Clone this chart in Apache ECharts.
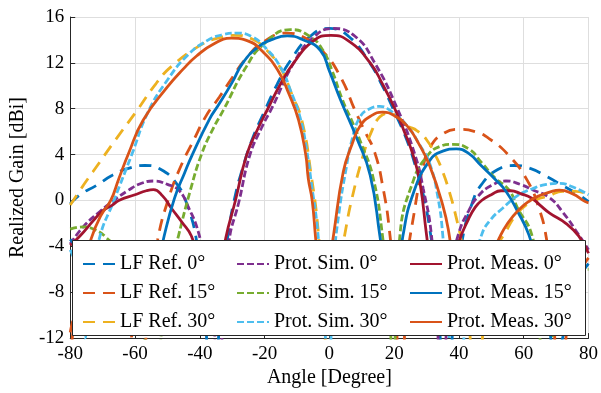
<!DOCTYPE html>
<html>
<head>
<meta charset="utf-8" />
<title>Realized Gain</title>
<script src="https://cdn.jsdelivr.net/npm/echarts@6/dist/echarts.min.js"></script>
<style type="text/css">
	html, body {margin: 0; padding: 0; background: #fff;}
	#main {width: 601px; height: 393px;}
</style>
</head>
<body>
<div id="main"></div>
<script type="text/javascript">
// axis ticks
var xTicks = [-80, -60, -40, -20, 0, 20, 40, 60, 80];
var yTicks = [-12, -8, -4, 0, 4, 8, 12, 16];

// series names (legend columns)
var lfNames = ['LF Ref. 0°', 'LF Ref. 15°', 'LF Ref. 30°'];
var simNames = ['Prot. Sim. 0°', 'Prot. Sim. 15°', 'Prot. Sim. 30°'];
var measNames = ['Prot. Meas. 0°', 'Prot. Meas. 15°', 'Prot. Meas. 30°'];

// [angle, gain dBi]
var lfRef0 = [[-80,-0.3],[-77,0.5],[-72,1.3],[-67,2.2],[-62,2.8],[-57,3.05],[-52,2.7],[-47,1.4],[-44,-0.3],[-41,-3.5],[-38.5,-9],[-36,-25],
	[-33.5,-8],[-31,-2.5],[-29,0.5],[-27,2.6],[-24,5.2],[-20,7.8],[-16,10.2],[-12,12.2],[-6,14.3],[0,15.0],[6,14.3],[12,12.2],[16,10.2],
	[20,7.8],[24,5.2],[27,2.6],[29,0.5],[31,-2.5],[33.5,-8],[36,-25],[38.5,-9],[41,-3.5],[44,-0.3],[47,1.4],[52,2.7],[57,3.05],[62,2.8],
	[67,2.1],[72,1.3],[77,0.5],[80,-0.1]];
var lfRef15 = [[-80,-11.5],[-76,-8],[-70,-6],[-65,-7.5],[-61,-12],[-58.5,-25],[-56,-9],[-53,-3.4],[-49.5,0.3],[-46,2.9],[-42,5.2],
	[-38,7.4],[-34,9.0],[-30,10.7],[-26,12.3],[-20,13.9],[-13,14.6],[-7,14.1],[-2,13.0],[3.4,10.8],[8,7.8],[11,6.0],[14,4.2],[16.5,1.2],
	[18.5,-2.5],[20.5,-9],[22,-25],[24,-6],[26.5,-0.5],[29,3.0],[31,4.6],[35,5.8],[40,6.2],[45,6.0],[49.3,5.4],[55.5,3.9],[61,1.8],
	[64.5,-0.5],[67,-3.3],[69,-8],[71,-25],[74,-9],[80,-5]];
var lfRef30 = [[-80,-0.4],[-76,1.3],[-73,2.5],[-66,5.3],[-59,8.0],[-53.5,10.2],[-48.7,11.7],[-40,13.5],[-34,14.2],[-29,14.4],[-24,14.1],
	[-20,13.3],[-15,11.5],[-11.5,9.2],[-8.5,7.0],[-5.5,2.0],[-3.5,-2.5],[-2.2,-8],[-1,-14],[0,-25],[1.2,-12],[3,-6],[5,-2.6],[7,0.2],
	[10.4,3.9],[13,6.0],[15.6,7.3],[18.5,7.6],[21,7.3],[24.2,6.5],[27,6.1],[30,5.3],[33,3.8],[35,2.5],[37,0.8],[39,-1.3],[41,-4],
	[43,-9],[45,-25],[48,-9],[51,-4.5],[54.5,-2.7],[57.5,-1.3],[60.7,-0.4],[64,0.1],[67.7,0.4],[72,0.8],[76,0.8],[80,0.5]];
var protSim0 = [[-80,-3.8],[-76,-2.3],[-71,-1.0],[-67,-0.1],[-62,0.9],[-58,1.5],[-54,1.7],[-50,1.4],[-46.5,0.9],[-43.5,-0.6],[-40.5,-2.7],
	[-38,-6],[-35.5,-11],[-34.3,-25],[-33,-11],[-31,-3.6],[-28,-0.2],[-24.5,4],[-21,6.3],[-17.5,8.2],[-11,12],[-5,14.2],[1,15.0],
	[8,14.3],[14,12],[21,8],[26.4,4],[29,1],[31.5,-3],[33.3,-10],[34.8,-25],[36.3,-10],[38,-5.5],[40,-2.8],[43,-0.9],[46,0.4],[50,1.3],
	[54.5,1.7],[59,1.4],[63,0.9],[67.7,0.3],[72,-1.0],[77,-3.0],[80,-4.3]];
var protSim15 = [[-80,-2.5],[-76,-2.3],[-72,-2.6],[-69,-3.2],[-65,-4.5],[-61,-7],[-57,-12],[-54.5,-25],[-52,-12],[-50,-7],[-46.6,-3.1],
	[-43,0.8],[-39.5,4],[-36,6.2],[-32.5,8],[-26,11.5],[-20,13.7],[-12,14.9],[-6,14.3],[-2,13.1],[1,11.2],[4,8.8],[7,6.9],[9.5,5.2],
	[13.5,2],[16.5,-3.3],[18,-8],[19,-12],[19.6,-25],[20.3,-12],[21.8,-3],[26,1.8],[30,3.8],[34,4.7],[38,4.9],[43,4.5],[47,3.3],[51,2.0],
	[55.5,0.9],[58,-0.6],[62.5,-3],[64.5,-7],[66,-25],[70,-9],[75,-6],[80,-6]];
var protSim30 = [[-80,-4.3],[-78,-6],[-75.5,-12],[-74,-8],[-71,-3.3],[-66.5,0],[-61,4],[-56,7.7],[-50,10.5],[-44,12.6],[-38,13.9],
	[-33,14.45],[-28.5,14.6],[-24,14.3],[-20,13.4],[-15,11.6],[-12,9.6],[-9,7.2],[-7,4.4],[-5.5,1.4],[-3.7,-2.4],[-2.5,-7],[-1.2,-12],
	[-0.3,-25],[0.5,-12],[1.5,-5],[3,-1],[5,2.5],[7,5.3],[9.5,7.3],[12.5,8.0],[15.6,8.2],[19,7.8],[24,6.5],[28,4.8],[31,3.2],[33.5,0.3],
	[35,-3],[36.5,-9],[39.5,-25],[42,-10],[44.5,-6],[47,-3],[50,-1.6],[53.4,-0.7],[58,0.4],[62.5,1.0],[67,1.4],[71,1.5],[75,1.2],[80,0.5]];
var protMeas0 = [[-80,-3.9],[-77,-3.1],[-73,-1.8],[-70,-0.9],[-67,-0.4],[-65,0],[-60,0.5],[-56.5,0.85],[-54.3,0.95],[-51.5,0.4],
	[-48.7,-0.7],[-45.5,-1.9],[-42.6,-3.1],[-40,-5.5],[-37,-9.5],[-34.5,-7.5],[-32,-3.3],[-29,0],[-25.5,4],[-22,6.3],[-19,8],[-15,10.2],
	[-11,12],[-5,13.9],[0.5,14.4],[6,13.9],[12.6,12],[16.5,10.1],[20.2,8],[23,6.1],[25.8,4],[28,1.5],[30,-3],[32,-7],[35,-9.5],[38,-6],
	[40,-3.6],[43,-1.6],[45,-0.6],[47,0],[50,0.5],[53,0.85],[56,0.85],[59,0.6],[62.5,0.2],[65,-0.4],[68,-1.1],[73,-2.0],[77,-3.1],[80,-4.6]];
var protMeas15 = [[-80,-3.4],[-75,-5],[-68,-7],[-61,-8.5],[-57,-10],[-54,-7],[-51,-3.1],[-47.8,0.2],[-44.7,2.4],[-42.3,4.0],[-37,7.1],
	[-34.3,8.3],[-30,10.3],[-26.7,12],[-22,13.4],[-18,14.0],[-13,14.35],[-8,14.0],[-2.8,13.1],[0,11.3],[3.4,8.8],[8.5,5.4],[12.6,2.2],
	[15.6,-3.1],[18,-8],[19.5,-10],[21,-7],[22.7,-3.1],[26,0.7],[31,3.5],[35,4.3],[39.2,4.5],[43,4.1],[47,3.0],[51,1.9],[54.5,0.8],
	[58,-0.9],[61.6,-3],[64,-5.5],[67,-9],[70,-14],[72,-12],[76,-7.5],[80,-5.5]];
var protMeas30 = [[-80,-14],[-77,-7],[-73.5,-3.3],[-70.5,-1.3],[-67.5,0],[-65,1.9],[-62,4.1],[-57.5,7.0],[-50,9.9],[-45,11.5],[-41,12.6],
	[-36,13.6],[-30.3,14.15],[-25,13.9],[-21,13.1],[-16,11.4],[-12.5,9.3],[-9.5,7.0],[-7.3,4.0],[-6.5,1.9],[-5.3,0],[-4.3,-3.1],[-3,-7],
	[-2,-10],[-0.8,-7],[1.3,-3],[4.3,2.5],[7,4.9],[9.5,6.5],[13,7.4],[16.5,7.7],[20,7.4],[24,6.5],[27.5,5.0],[31,3.0],[35,-0.4],[37,-3],
	[39,-7],[41.5,-10],[45,-8],[48,-6],[52.4,-3.3],[55,-2.0],[58.5,-0.8],[62,0],[64.7,0.4],[68.7,0.8],[71,0.9],[75,0.6],[79,-0.1],[80,-0.2]];

var font = '"Liberation Serif", "DejaVu Serif", serif';
var lfDash = [12, 8];
var simDash = [7, 3];

function line(name, data, color, dash) {
	return {
		name: name,
		type: 'line',
		data: data,
		symbol: 'none',
		smooth: 0.5,
		clip: true,
		lineStyle: {color: color, width: 2.8, type: dash, cap: 'butt'},
		itemStyle: {color: color}
	};
}

function legendCol(names, left) {
	return {
		data: names,
		orient: 'vertical',
		left: left,
		top: 254,
		padding: 0,
		itemGap: 9,
		itemWidth: 32,
		itemHeight: 14,
		z: 10,
		itemStyle: {opacity: 0},
		textStyle: {fontFamily: font, fontSize: 20, color: '#000'}
	};
}

var myChart = echarts.init(document.getElementById('main'));
var chartOption = {
	animation: false,
	backgroundColor: '#fff',
	grid: {left: 68, right: 11, top: 17, bottom: 52},
	xAxis: {
		type: 'value',
		min: xTicks[0],
		max: xTicks[xTicks.length - 1],
		interval: 20,
		name: 'Angle [Degree]',
		nameLocation: 'middle',
		nameGap: 29,
		nameTextStyle: {fontFamily: font, fontSize: 20, color: '#000'},
		axisLine: {onZero: false, lineStyle: {color: '#262626', width: 1}},
		axisTick: {inside: true, length: 5, lineStyle: {color: '#262626'}},
		axisLabel: {fontFamily: font, fontSize: 19, color: '#000', margin: 6},
		splitLine: {show: true, lineStyle: {color: '#dedede', width: 1}}
	},
	yAxis: {
		type: 'value',
		min: yTicks[0],
		max: yTicks[yTicks.length - 1],
		interval: 4,
		name: 'Realized Gain [dBi]',
		nameLocation: 'middle',
		nameGap: 40,
		nameTextStyle: {fontFamily: font, fontSize: 20, color: '#000'},
		axisLine: {show: true, onZero: false, lineStyle: {color: '#262626', width: 1}},
		axisTick: {show: true, inside: true, length: 5, lineStyle: {color: '#262626'}},
		axisLabel: {fontFamily: font, fontSize: 19, color: '#000', margin: 6},
		splitLine: {show: true, lineStyle: {color: '#dedede', width: 1}}
	},
	legend: [legendCol(lfNames, 82), legendCol(simNames, 236), legendCol(measNames, 409)],
	graphic: [{
		type: 'rect',
		left: 72,
		top: 240,
		z: 5,
		shape: {width: 513, height: 95},
		style: {fill: '#fff', stroke: '#262626', lineWidth: 1}
	}],
	series: [
		line(lfNames[0], lfRef0, '#0072BD', lfDash),
		line(lfNames[1], lfRef15, '#D95319', lfDash),
		line(lfNames[2], lfRef30, '#EDB120', lfDash),
		line(simNames[0], protSim0, '#7E2F8E', simDash),
		line(simNames[1], protSim15, '#77AC30', simDash),
		line(simNames[2], protSim30, '#4DBEEE', simDash),
		line(measNames[0], protMeas0, '#A2142F', 'solid'),
		line(measNames[1], protMeas15, '#0072BD', 'solid'),
		line(measNames[2], protMeas30, '#D95319', 'solid')
	]
};
myChart.setOption(chartOption);
</script>
</body>
</html>
